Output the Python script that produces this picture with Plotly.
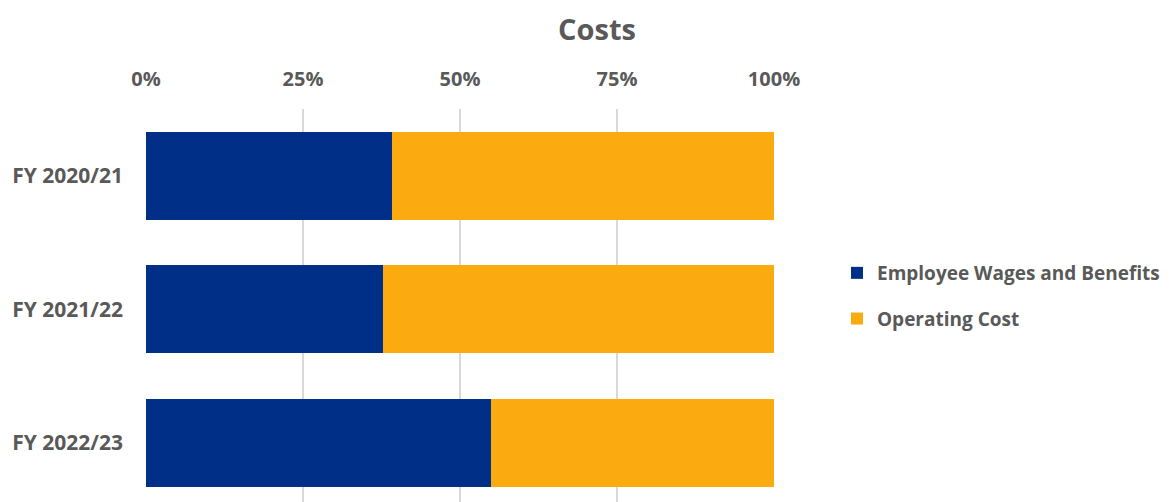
import plotly.graph_objects as go

categories = ["FY 2020/21", "FY 2021/22", "FY 2022/23"]
wages = [39.2, 37.8, 54.9]
operating = [60.8, 62.2, 45.1]
tick_vals = [0, 25, 50, 75, 100]
tick_text = ["0%", "25%", "50%", "75%", "100%"]

GREY = "#595959"
FONT = "Open Sans"

fig = go.Figure()
fig.add_trace(go.Bar(y=categories, x=wages, orientation="h", name="<b>Employee Wages and Benefits</b>",
                     marker=dict(color="#002F87", line=dict(width=0)), legendgroup="a"))
fig.add_trace(go.Bar(y=categories, x=operating, orientation="h", name="<b>Operating Cost</b>",
                     marker=dict(color="#FBAA10", line=dict(width=0)), legendgroup="b"))

fig.update_layout(
    barmode="stack",
    bargap=0.34,
    width=1175, height=502,
    margin=dict(l=146, r=401, t=109, b=0, autoexpand=False),
    paper_bgcolor="white", plot_bgcolor="white",
    title=dict(text="<b>Costs</b>", x=597/1175, xanchor="center", y=1-30/502, yanchor="middle",
               font=dict(family=FONT, size=29, color=GREY)),
    font=dict(family=FONT, color=GREY),
    legend=dict(x=(837-146)/628, xanchor="left", y=0.5 + (0.5 - (296-109)/(502-109)), yanchor="middle",
                font=dict(family=FONT, size=19, color=GREY), traceorder="grouped",
                tracegroupgap=18, itemclick=False),
    xaxis=dict(side="top", range=[0, 100], tickvals=tick_vals, ticktext=[f"<b>{t}</b>" for t in tick_text],
               showgrid=True, gridcolor="#D9D9D9", gridwidth=1.5, zeroline=False, showline=False,
               ticks="", tickfont=dict(size=20, color=GREY), ticklabelstandoff=18),
    yaxis=dict(autorange=False, range=[2.444, -0.5], tickvals=categories,
               ticktext=[f"<b>{c}</b>" for c in categories], showgrid=False, zeroline=False,
               showline=False, ticks="", tickfont=dict(size=21, color=GREY), ticklabelstandoff=22),
)

fig.write_html("out.html")
